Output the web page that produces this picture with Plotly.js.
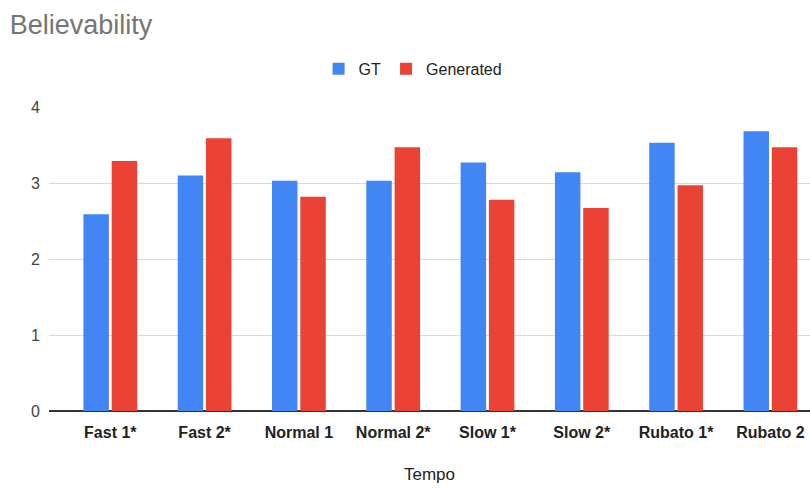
<!DOCTYPE html>
<html>
<head>
<meta charset="utf-8">
<script src="https://cdn.plot.ly/plotly-3.0.1.min.js"></script>
<style>html,body{margin:0;padding:0;background:#fff;}#chart{width:810px;height:488px;}</style>
</head>
<body>
<div id="chart"></div>
<script>
const categories = ["Fast 1*", "Fast 2*", "Normal 1", "Normal 2*", "Slow 1*", "Slow 2*", "Rubato 1*", "Rubato 2"];
const gtValues = [2.59, 3.10, 3.03, 3.03, 3.27, 3.14, 3.53, 3.68];
const generatedValues = [3.29, 3.59, 2.82, 3.47, 2.78, 2.67, 2.97, 3.47];
const yTicks = [0, 1, 2, 3, 4];

const traces = [
  {type: "bar", name: "GT", x: categories, y: gtValues, marker: {color: "#4285F4"}},
  {type: "bar", name: "Generated", x: categories, y: generatedValues, marker: {color: "#EA4335"}}
];

const layout = {
  width: 810, height: 488,
  margin: {l: 49, r: 0, t: 107, b: 77},
  paper_bgcolor: "#fff", plot_bgcolor: "#fff",
  font: {family: "Arial, 'Liberation Sans', sans-serif", color: "#222"},
  title: {text: "Believability", font: {size: 27, color: "#757575"}, xref: "container", x: 0.012, xanchor: "left", yref: "container", y: 0.95, yanchor: "middle"},
  barmode: "group", bargap: 0.4, bargroupgap: 0.1,
  showlegend: true,
  legend: {orientation: "h", xref: "container", x: 0.51, xanchor: "center", yref: "container", y: 0.859, yanchor: "middle", font: {size: 16, color: "#222"}, itemwidth: 30},
  xaxis: {
    type: "category", range: [-0.65, 7.42], showgrid: false, ticks: "", zeroline: false,
    showline: false, ticklabelstandoff: 10,
    tickfont: {size: 16, color: "#222", family: "Arial, 'Liberation Sans', sans-serif", weight: "bold"},
    title: {text: "Tempo", font: {size: 17, color: "#222"}, standoff: 28}
  },
  yaxis: {
    range: [0, 4], tickvals: yTicks, ticktext: yTicks.map(String), showgrid: true, gridcolor: "#d9d9d9",
    zeroline: true, zerolinecolor: "#333", zerolinewidth: 1.5, ticks: "", showline: false,
    tickfont: {size: 16, color: "#444"}, ticklabelstandoff: 8
  }
};

Plotly.newPlot("chart", traces, layout, {displayModeBar: false, staticPlot: true});
</script>
</body>
</html>
